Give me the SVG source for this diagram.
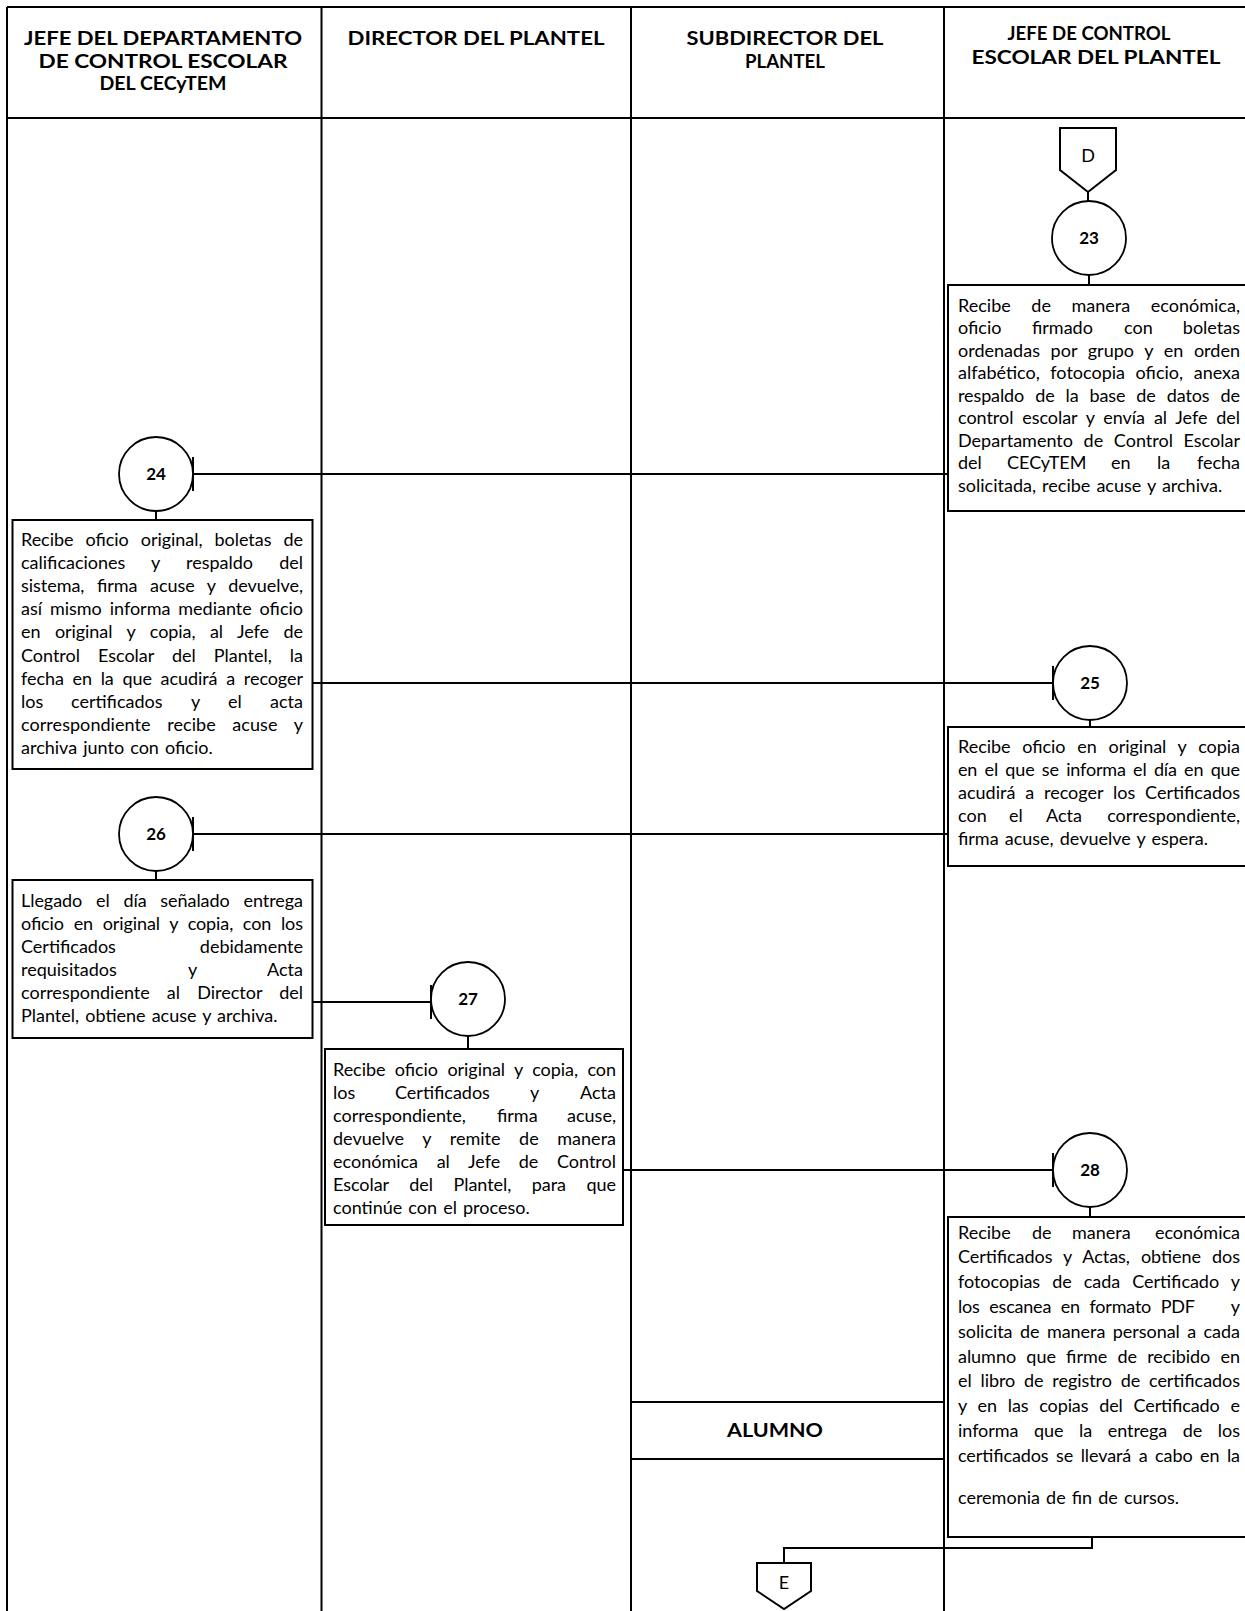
<svg xmlns="http://www.w3.org/2000/svg" width="1245" height="1611" viewBox="0 0 1245 1611">
<style>
.fr{stroke:#000;stroke-width:2;fill:none}
.bx{fill:#fff;stroke:#000;stroke-width:2}
.ci{fill:#fff;stroke:#000;stroke-width:1.8}
.cn{stroke:#000;stroke-width:2;fill:none}
.t{font-family:Lato,"Liberation Sans",sans-serif;font-size:18px;word-spacing:1.5px;fill:#000}
.e{text-anchor:end}
.h{font-family:Lato,"Liberation Sans",sans-serif;font-size:18px;font-weight:700;text-anchor:middle;fill:#000}
.n{font-family:Lato,"Liberation Sans",sans-serif;font-size:17px;font-weight:700;text-anchor:middle;fill:#000}
</style>
<rect width="1245" height="1611" fill="#fff"/>
<g id="frame">
<line class="fr" x1="7" y1="7" x2="1245" y2="7"/>
<line class="fr" x1="7" y1="118" x2="1245" y2="118"/>
<line class="fr" x1="7" y1="7" x2="7" y2="1611"/>
<line class="fr" x1="321.5" y1="7" x2="321.5" y2="1611"/>
<line class="fr" x1="631" y1="7" x2="631" y2="1611"/>
<line class="fr" x1="944" y1="7" x2="944" y2="1611"/>
<line class="fr" x1="631" y1="1402" x2="944" y2="1402"/>
<line class="fr" x1="631" y1="1459" x2="944" y2="1459"/>
</g>
<g id="headers">
<text class="h" x="163" y="45" textLength="278" lengthAdjust="spacingAndGlyphs">JEFE DEL DEPARTAMENTO</text>
<text class="h" x="163" y="68" textLength="249" lengthAdjust="spacingAndGlyphs">DE CONTROL ESCOLAR</text>
<text class="h" x="163" y="90" textLength="127" lengthAdjust="spacingAndGlyphs">DEL CECyTEM</text>
<text class="h" x="476" y="45" textLength="257" lengthAdjust="spacingAndGlyphs">DIRECTOR DEL PLANTEL</text>
<text class="h" x="785" y="45" textLength="197" lengthAdjust="spacingAndGlyphs">SUBDIRECTOR DEL</text>
<text class="h" x="785" y="68" textLength="80" lengthAdjust="spacingAndGlyphs">PLANTEL</text>
<text class="h" x="1089" y="40" textLength="163" lengthAdjust="spacingAndGlyphs">JEFE DE CONTROL</text>
<text class="h" x="1096" y="64" textLength="249" lengthAdjust="spacingAndGlyphs">ESCOLAR DEL PLANTEL</text>
<text class="h" x="775" y="1437" textLength="96" lengthAdjust="spacingAndGlyphs">ALUMNO</text>
</g>
<g id="connectors">
<line class="cn" x1="1088" y1="192" x2="1088" y2="201"/>
<line class="cn" x1="1089" y1="275" x2="1089" y2="285"/>
<line class="cn" x1="948" y1="474" x2="193" y2="474"/>
<line class="cn" x1="193" y1="457" x2="193" y2="491"/>
<line class="cn" x1="156" y1="511" x2="156" y2="520"/>
<line class="cn" x1="312.5" y1="683" x2="1053" y2="683"/>
<line class="cn" x1="1053" y1="666" x2="1053" y2="700"/>
<line class="cn" x1="1090" y1="720" x2="1090" y2="727"/>
<line class="cn" x1="948" y1="834" x2="193" y2="834"/>
<line class="cn" x1="193" y1="817" x2="193" y2="851"/>
<line class="cn" x1="156" y1="871" x2="156" y2="880"/>
<line class="cn" x1="312.5" y1="1002" x2="431" y2="1002"/>
<line class="cn" x1="431" y1="985" x2="431" y2="1019"/>
<line class="cn" x1="468" y1="1036" x2="468" y2="1049"/>
<line class="cn" x1="623" y1="1170" x2="1053" y2="1170"/>
<line class="cn" x1="1053" y1="1153" x2="1053" y2="1187"/>
<line class="cn" x1="1090" y1="1207" x2="1090" y2="1217"/>
<polyline class="cn" points="1092,1537 1092,1548 784,1548 784,1563"/>
</g>
<g id="conD">
<path class="bx" d="M1060,128 H1116 V170 L1088,192 L1060,170 Z"/>
<text class="t" x="1088" y="162" text-anchor="middle">D</text>
</g>
<g id="n23">
<circle class="ci" cx="1089" cy="238" r="37"/>
<text class="n" x="1089" y="244">23</text>
</g>
<g id="b23">
<rect class="bx" x="948" y="285" width="300" height="226"/>
<text class="t" x="958" y="311.5" textLength="282" lengthAdjust="spacing" style="word-spacing:16px">Recibe de manera económica,</text>
<text class="t" y="334"><tspan x="958">oficio</tspan><tspan x="1032">firmado</tspan><tspan x="1124">con</tspan></text>
<text class="t e" x="1240" y="334">boletas</text>
<text class="t" x="958" y="356.5" textLength="282" lengthAdjust="spacing" style="word-spacing:6px">ordenadas por grupo y en orden</text>
<text class="t" x="958" y="379" textLength="282" lengthAdjust="spacing" style="word-spacing:6px">alfabético, fotocopia oficio, anexa</text>
<text class="t" x="958" y="401.5" textLength="282" lengthAdjust="spacing" style="word-spacing:6.5px">respaldo de la base de datos de</text>
<text class="t" x="958" y="424" textLength="282" lengthAdjust="spacing" style="word-spacing:4.3px">control escolar  y envía al Jefe del</text>
<text class="t" x="958" y="446.5" textLength="282" lengthAdjust="spacing" style="word-spacing:6px">Departamento de Control Escolar</text>
<text class="t" y="469"><tspan x="958">del</tspan><tspan x="1007">CECyTEM</tspan><tspan x="1111">en</tspan><tspan x="1157">la</tspan></text>
<text class="t e" x="1240" y="469">fecha</text>
<text class="t" x="958" y="491.5">solicitada, recibe acuse y archiva.</text>
</g>
<g id="n24">
<circle class="ci" cx="156" cy="474" r="37"/>
<text class="n" x="156" y="480">24</text>
</g>
<g id="b24">
<rect class="bx" x="12.5" y="520" width="300" height="249"/>
<text class="t" x="21" y="545.5" textLength="282" lengthAdjust="spacing" style="word-spacing:7.5px">Recibe oficio original, boletas de</text>
<text class="t" y="568.7"><tspan x="21">calificaciones</tspan><tspan x="151">y</tspan><tspan x="186">respaldo</tspan></text>
<text class="t e" x="303" y="568.7">del</text>
<text class="t" x="21" y="591.9" textLength="282" lengthAdjust="spacing" style="word-spacing:8px">sistema, firma acuse y devuelve,</text>
<text class="t" x="21" y="615.1" textLength="282" lengthAdjust="spacing" style="word-spacing:3.3px">así mismo informa mediante oficio</text>
<text class="t" x="21" y="638.3" textLength="282" lengthAdjust="spacing" style="word-spacing:10px">en original y copia, al Jefe de</text>
<text class="t" x="21" y="661.5" textLength="282" lengthAdjust="spacing" style="word-spacing:13.5px">Control Escolar del Plantel, la</text>
<text class="t" x="21" y="684.7" textLength="282" lengthAdjust="spacing" style="word-spacing:4.2px">fecha en la que acudirá a recoger</text>
<text class="t" y="707.9"><tspan x="21">los</tspan><tspan x="71">certificados</tspan><tspan x="191">y</tspan><tspan x="228">el</tspan></text>
<text class="t e" x="303" y="707.9">acta</text>
<text class="t" x="21" y="731.1" textLength="282" lengthAdjust="spacing" style="word-spacing:12px">correspondiente recibe acuse y</text>
<text class="t" x="21" y="754.3">archiva junto con oficio.</text>
</g>
<g id="n25">
<circle class="ci" cx="1090" cy="683" r="37"/>
<text class="n" x="1090" y="689">25</text>
</g>
<g id="b25">
<rect class="bx" x="948" y="727" width="300" height="139"/>
<text class="t" x="958" y="752.5" textLength="282" lengthAdjust="spacing" style="word-spacing:7.2px">Recibe oficio en original y copia</text>
<text class="t" x="958" y="775.5" textLength="282" lengthAdjust="spacing" style="word-spacing:2.9px">en el que se informa el día en que</text>
<text class="t" x="958" y="798.5" textLength="282" lengthAdjust="spacing" style="word-spacing:5.2px">acudirá a recoger los Certificados</text>
<text class="t" y="821.5"><tspan x="958">con</tspan><tspan x="1009">el</tspan><tspan x="1046">Acta</tspan></text>
<text class="t e" x="1240" y="821.5">correspondiente,</text>
<text class="t" x="958" y="844.5">firma acuse, devuelve y espera.</text>
</g>
<g id="n26">
<circle class="ci" cx="156" cy="834" r="37"/>
<text class="n" x="156" y="840">26</text>
</g>
<g id="b26">
<rect class="bx" x="12.5" y="880" width="300" height="158"/>
<text class="t" x="21" y="906.5" textLength="282" lengthAdjust="spacing" style="word-spacing:9.2px">Llegado el día señalado entrega</text>
<text class="t" x="21" y="929.5" textLength="282" lengthAdjust="spacing" style="word-spacing:5.2px">oficio en original y copia, con los</text>
<text class="t" x="21" y="952.5">Certificados</text>
<text class="t e" x="303" y="952.5">debidamente</text>
<text class="t" y="975.5"><tspan x="21">requisitados</tspan><tspan x="188">y</tspan></text>
<text class="t e" x="303" y="975.5">Acta</text>
<text class="t" x="21" y="998.5" textLength="282" lengthAdjust="spacing" style="word-spacing:12.5px">correspondiente al Director del</text>
<text class="t" x="21" y="1021.5">Plantel, obtiene acuse y archiva.</text>
</g>
<g id="n27">
<circle class="ci" cx="468" cy="999" r="37"/>
<text class="n" x="468" y="1005">27</text>
</g>
<g id="b27">
<rect class="bx" x="325" y="1049" width="298" height="176"/>
<text class="t" x="333" y="1075.5" textLength="283" lengthAdjust="spacing" style="word-spacing:4.9px">Recibe oficio original y copia, con</text>
<text class="t" y="1098.5"><tspan x="333">los</tspan><tspan x="395">Certificados</tspan><tspan x="530">y</tspan></text>
<text class="t e" x="616" y="1098.5">Acta</text>
<text class="t" y="1121.5"><tspan x="333">correspondiente,</tspan><tspan x="497">firma</tspan></text>
<text class="t e" x="616" y="1121.5">acuse,</text>
<text class="t" x="333" y="1144.5" textLength="283" lengthAdjust="spacing" style="word-spacing:14px">devuelve y remite de manera</text>
<text class="t" x="333" y="1167.5" textLength="283" lengthAdjust="spacing" style="word-spacing:14px">económica al Jefe de Control</text>
<text class="t" x="333" y="1190.5" textLength="283" lengthAdjust="spacing" style="word-spacing:16px">Escolar del Plantel, para que</text>
<text class="t" x="333" y="1213.5">continúe con el proceso.</text>
</g>
<g id="n28">
<circle class="ci" cx="1090" cy="1170" r="37"/>
<text class="n" x="1090" y="1176">28</text>
</g>
<g id="b28">
<rect class="bx" x="948" y="1217" width="300" height="320"/>
<text class="t" y="1238.5"><tspan x="958">Recibe</tspan><tspan x="1032">de</tspan><tspan x="1072">manera</tspan></text>
<text class="t e" x="1240" y="1238.5">económica</text>
<text class="t" x="958" y="1263.3" textLength="282" lengthAdjust="spacing" style="word-spacing:6.5px">Certificados y Actas, obtiene dos</text>
<text class="t" x="958" y="1288.1" textLength="282" lengthAdjust="spacing" style="word-spacing:7.5px">fotocopias de cada Certificado y</text>
<text class="t" x="958" y="1312.9" textLength="237" lengthAdjust="spacing" style="word-spacing:5.2px">los escanea en formato PDF</text>
<text class="t e" x="1240" y="1312.9">y</text>
<text class="t" x="958" y="1337.7" textLength="282" lengthAdjust="spacing" style="word-spacing:2.9px">solicita de manera personal a cada</text>
<text class="t" x="958" y="1362.5" textLength="282" lengthAdjust="spacing" style="word-spacing:5.7px">alumno que firme de recibido en</text>
<text class="t" x="958" y="1387.3" textLength="282" lengthAdjust="spacing" style="word-spacing:4.3px">el libro de registro de certificados</text>
<text class="t" x="958" y="1412.1" textLength="282" lengthAdjust="spacing" style="word-spacing:6.4px">y en las copias del Certificado e</text>
<text class="t" x="958" y="1436.9" textLength="282" lengthAdjust="spacing" style="word-spacing:11px">informa que la entrega de los</text>
<text class="t" x="958" y="1461.7" textLength="282" lengthAdjust="spacing" style="word-spacing:3px">certificados se llevará a cabo en la</text>
<text class="t" x="958" y="1504">ceremonia de fin de cursos.</text>
</g>
<g id="conE">
<path class="bx" d="M757,1563 H811 V1591 L784,1609 L757,1591 Z"/>
<text class="t" x="784" y="1589" text-anchor="middle">E</text>
</g>
</svg>
